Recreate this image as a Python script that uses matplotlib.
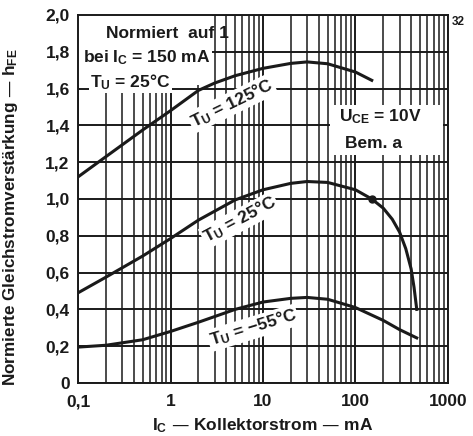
import matplotlib.pyplot as plt
from matplotlib.patches import Rectangle
from matplotlib.ticker import FixedLocator, NullFormatter

plt.rcParams['font.family'] = ['Liberation Sans', 'DejaVu Sans']
plt.rcParams['font.weight'] = 'bold'
plt.rcParams['axes.labelweight'] = 'bold'
plt.rcParams['mathtext.default'] = 'regular'

# Kollektorstrom in mA, normierte Gleichstromverstärkung
ic_125 = [0.1, 0.2, 0.5, 1, 2, 3, 5, 10, 20, 30, 50, 100, 150]
h_125 = [1.12, 1.23, 1.375, 1.48, 1.59, 1.63, 1.67, 1.71, 1.737, 1.745, 1.735, 1.69, 1.645]

ic_25 = [0.1, 0.2, 0.5, 1, 2, 5, 10, 20, 30, 50, 100, 150, 200, 250, 300, 350, 400, 430, 460]
h_25 = [0.49, 0.575, 0.69, 0.785, 0.885, 0.995, 1.05, 1.085, 1.095, 1.09, 1.05, 1.0, 0.95, 0.89,
        0.82, 0.73, 0.62, 0.52, 0.40]

ic_m55 = [0.1, 0.2, 0.5, 1, 2, 5, 10, 20, 30, 50, 100, 200, 300, 460]
h_m55 = [0.195, 0.205, 0.235, 0.28, 0.33, 0.40, 0.44, 0.46, 0.465, 0.455, 0.41, 0.34, 0.29, 0.245]

norm_ic = [150]
norm_h = [1.0]

y_ticks = [0, 0.2, 0.4, 0.6, 0.8, 1.0, 1.2, 1.4, 1.6, 1.8, 2.0]
y_labels = ['0', '0,2', '0,4', '0,6', '0,8', '1,0', '1,2', '1,4', '1,6', '1,8', '2,0']
x_ticks = [0.1, 1, 10, 100, 1000]
x_labels = ['0,1', '1', '10', '100', '1000']

ink = '#1a1a1a'

fig = plt.figure(figsize=(4.73, 4.36), dpi=100)
ax = fig.add_axes([0.165, 0.1216, 0.782, 0.844])
ax.set_xscale('log')
ax.set_xlim(0.1, 1000)
ax.set_ylim(0, 2.0)

minor = [m * 10.0 ** d for d in range(-1, 3) for m in range(2, 10)]
ax.xaxis.set_minor_locator(FixedLocator(minor))
ax.xaxis.set_minor_formatter(NullFormatter())
ax.set_xticks(x_ticks)
ax.set_xticklabels(x_labels)
ax.set_yticks(y_ticks)
ax.set_yticklabels(y_labels)
ax.tick_params(which='both', length=0, labelsize=12.5, colors=ink)
ax.tick_params(axis='y', pad=6)
ax.tick_params(axis='x', pad=8)
ax.grid(which='major', color=ink, lw=1.4, zorder=1)
ax.grid(which='minor', axis='x', color=ink, lw=1.1, zorder=1)
ax.set_axisbelow(True)
for s in ax.spines.values():
    s.set_color(ink)
    s.set_linewidth(1.4)

# weisse Felder fuer die Beschriftung
ax.add_patch(Rectangle((0.1, 1.62), 2.7, 0.38, facecolor='white', edgecolor='none', zorder=2))
ax.add_patch(Rectangle((53, 1.24), 830, 0.27, facecolor='white', edgecolor='none', zorder=2))

ax.plot(ic_125, h_125, color=ink, lw=2.2, zorder=4)
ax.plot(ic_25, h_25, color=ink, lw=2.2, zorder=4)
ax.plot(ic_m55, h_m55, color=ink, lw=2.2, zorder=4)
ax.plot(norm_ic, norm_h, 'o', color=ink, ms=5, zorder=5)

fs = 12.5
box = dict(facecolor='white', edgecolor='none', pad=1)
ax.text(0.93, 1.90, 'Normiert  auf 1', ha='center', va='center', fontsize=fs, color=ink, zorder=6)
ax.text(0.1125, 1.77, 'bei I$_C$ = 150 mA', ha='left', va='center', fontsize=fs, color=ink, zorder=6)
ax.text(0.135, 1.635, 'T$_U$ = 25°C', ha='left', va='center', fontsize=fs, color=ink, zorder=6, bbox=box)
ax.text(184, 1.445, 'U$_{CE}$ = 10V', ha='center', va='center', fontsize=fs, color=ink, zorder=6)
ax.text(155, 1.30, 'Bem. a', ha='center', va='center', fontsize=fs, color=ink, zorder=6)

ax.text(4.6, 1.52, 'T$_U$ = 125°C', rotation=26, ha='center', va='center', fontsize=fs,
        color=ink, zorder=6, bbox=box)
ax.text(5.6, 0.886, 'T$_U$ = 25°C', rotation=28, ha='center', va='center', fontsize=fs,
        color=ink, zorder=6, bbox=box)
ax.text(7.8, 0.30, 'T$_U$ = −55°C', rotation=17, ha='center', va='center', fontsize=fs,
        color=ink, zorder=6, bbox=box)

ax.set_ylabel('Normierte Gleichstromverstärkung — h$_{FE}$', fontsize=12.3, color=ink)
ax.yaxis.set_label_coords(-0.158, 0.45)
ax.set_xlabel('I$_C$ — Kollektorstrom — mA', fontsize=12.5, color=ink, labelpad=5)

fig.text(0.968, 0.95, '32', fontsize=8.5, color=ink, ha='center', va='center')

fig.savefig('out.png', dpi=100)
